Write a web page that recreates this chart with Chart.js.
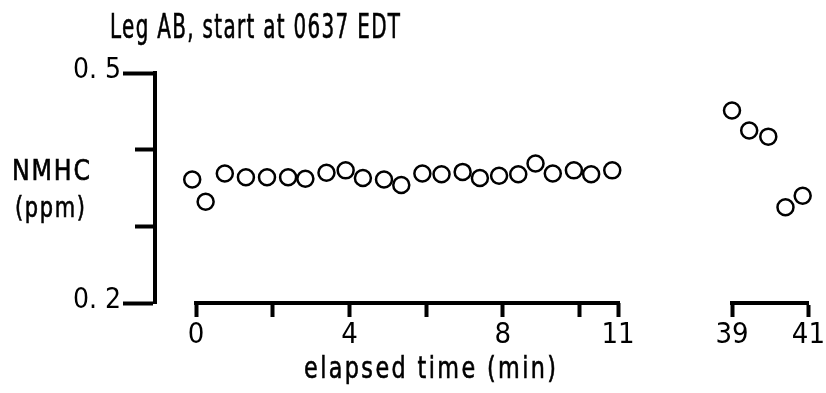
<!DOCTYPE html>
<html>
<head>
<meta charset="utf-8">
<script src="https://cdn.jsdelivr.net/npm/chart.js@4.4.0/dist/chart.umd.min.js"></script>
<style>
html, body { margin: 0; padding: 0; background: #fff; }
#wrap { position: relative; width: 826px; height: 393px; }
#wrap canvas { position: absolute; left: 0; top: 0; }
</style>
</head>
<body>
<div id="wrap">
  <canvas id="canvas" width="826" height="393"></canvas>
  <canvas id="canvas2" width="826" height="393"></canvas>
</div>
<script>
// first part of the leg, 0 - 11 min
const timesA = [-0.1, 0.25, 0.75, 1.3, 1.85, 2.4, 2.85, 3.4, 3.9, 4.35, 4.9, 5.35,
    5.9, 6.4, 6.95, 7.4, 7.9, 8.4, 8.85, 9.3, 9.85, 10.3, 10.85];
const nmhcA = [0.361, 0.332, 0.369, 0.364, 0.364, 0.364, 0.362, 0.370, 0.373, 0.363, 0.361, 0.354,
    0.369, 0.368, 0.371, 0.363, 0.366, 0.368, 0.382, 0.369, 0.373, 0.368, 0.373];
// later part, 39 - 41 min
const timesB = [39.0, 39.45, 39.95, 40.4, 40.85];
const nmhcB = [0.451, 0.425, 0.417, 0.325, 0.340];

const yTicks = [0.2, 0.3, 0.4, 0.5];
const yLabels = {0.2: '0. 2', 0.5: '0. 5'};
const xTicksA = [0, 2, 4, 6, 8, 10, 11];
const xLabelsA = [0, 4, 8, 11];
const xTicksB = [39, 41];

const titleText = 'Leg AB, start at 0637 EDT';
const yTitle = ['NMHC', '(ppm)'];
const xTitle = 'elapsed time (min)';

const font = "'Liberation Sans Narrow', 'DejaVu Sans Condensed', 'Arial Narrow', sans-serif";
Chart.defaults.font.family = font;
Chart.defaults.color = '#000';

const circles = {
    showLine: false,
    pointRadius: 8,
    pointHoverRadius: 8,
    pointBorderWidth: 2.5,
    borderColor: '#000',
    backgroundColor: 'rgba(0,0,0,0)',
    clip: false
};

// squeeze a line of text to a given width (the original lettering is condensed)
function fitText(ctx, text, x, y, width, align, spacing) {
    ctx.save();
    ctx.letterSpacing = spacing + 'px';
    const w = ctx.measureText(text).width - spacing;
    ctx.translate(x, y);
    ctx.scale(width / w, 1);
    ctx.textAlign = 'left';
    const x0 = align === 'center' ? -w / 2 : 0;
    ctx.fillText(text, x0, 0);
    ctx.lineWidth = 0.6;
    ctx.strokeText(text, x0, 0);
    ctx.restore();
}

// free text + the bracket line of the 0-11 axis
const textPlugin = {
    id: 'texts',
    afterDraw(chart) {
        const ctx = chart.ctx;
        const x = chart.scales.x;
        const bottom = chart.chartArea.bottom;
        ctx.save();
        ctx.strokeStyle = '#000';
        ctx.lineWidth = 4;
        ctx.beginPath();
        ctx.moveTo(x.getPixelForValue(0) - 2, bottom);
        ctx.lineTo(x.getPixelForValue(11) + 2, bottom);
        ctx.stroke();

        ctx.fillStyle = '#000';
        ctx.textBaseline = 'alphabetic';
        ctx.font = '33px ' + font;
        fitText(ctx, titleText, 110, 38, 290, 'left', 2);

        ctx.font = '28px ' + font;
        fitText(ctx, yTitle[0], 51, 180, 78, 'center', 2);
        fitText(ctx, yTitle[1], 50, 217, 70, 'center', 2);

        ctx.font = '31px ' + font;
        fitText(ctx, xTitle, x.getPixelForValue(6.1), 378, 252, 'center', 3);
        ctx.restore();
    }
};

const config = {
    type: 'scatter',
    data: {
        datasets: [Object.assign({
            data: timesA.map((t, i) => ({x: t, y: nmhcA[i]}))
        }, circles)]
    },
    options: {
        responsive: false,
        animation: false,
        layout: {padding: {left: 70, right: 208, top: 73, bottom: 0}},
        plugins: {legend: {display: false}, tooltip: {enabled: false}},
        scales: {
            x: {
                type: 'linear',
                min: -1.07,
                max: 11,
                afterBuildTicks: s => { s.ticks = xTicksA.map(v => ({value: v})); },
                afterFit: s => { s.height = 90; },
                border: {display: false},
                grid: {drawOnChartArea: false, tickLength: 14, tickWidth: 4, tickColor: '#000'},
                ticks: {
                    padding: 1,
                    maxRotation: 0,
                    font: {size: 29},
                    callback: v => xLabelsA.includes(v) ? String(v) : ''
                }
            },
            y: {
                min: 0.2,
                max: 0.5,
                afterBuildTicks: s => { s.ticks = yTicks.map(v => ({value: v})); },
                afterFit: s => { s.width = 85; },
                border: {display: true, color: '#000', width: 4},
                grid: {
                    drawOnChartArea: false,
                    tickLength: 32,
                    tickWidth: 4,
                    tickColor: '#000',
                    tickBorderDash: c => (c.tick && yLabels[c.tick.value]) ? [] : [0, 12, 20, 100]
                },
                ticks: {
                    padding: 2,
                    labelOffset: -2,
                    font: {size: 28},
                    callback: v => yLabels[v] || ''
                }
            }
        }
    },
    plugins: [textPlugin]
};
const myChart = new Chart(document.querySelector('#canvas'), config);

const config2 = {
    type: 'scatter',
    data: {
        datasets: [Object.assign({
            data: timesB.map((t, i) => ({x: t, y: nmhcB[i]}))
        }, circles)]
    },
    options: {
        responsive: false,
        animation: false,
        layout: {padding: {left: 732, right: 14, top: 73, bottom: 0}},
        plugins: {legend: {display: false}, tooltip: {enabled: false}},
        scales: {
            x: {
                type: 'linear',
                min: 39,
                max: 41,
                afterBuildTicks: s => { s.ticks = xTicksB.map(v => ({value: v})); },
                afterFit: s => { s.height = 90; },
                border: {display: true, color: '#000', width: 4},
                grid: {drawOnChartArea: false, tickLength: 14, tickWidth: 4, tickColor: '#000'},
                ticks: {
                    padding: 1,
                    maxRotation: 0,
                    font: {size: 29},
                    callback: v => String(v)
                }
            },
            y: {display: false, min: 0.2, max: 0.5}
        }
    }
};
const myChart2 = new Chart(document.querySelector('#canvas2'), config2);
</script>
</body>
</html>
